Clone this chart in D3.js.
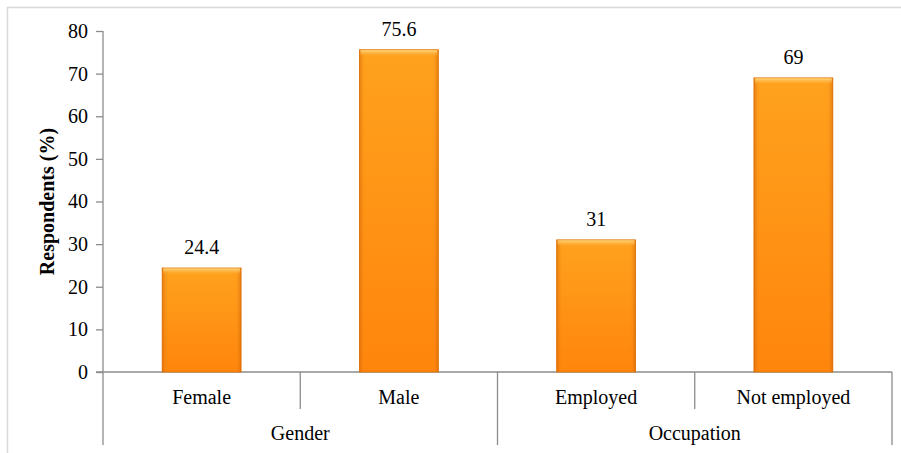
<!DOCTYPE html>
<html>
<head>
<meta charset="utf-8">
<script src="https://cdn.jsdelivr.net/npm/d3@7"></script>
<style>
  body { margin: 0; background: #fff; }
  svg { display: block; }
  svg text { font-family: "Liberation Serif", "Times New Roman", serif !important; fill: #000; }
</style>
</head>
<body>
<div id="chart"></div>
<script>
// chart data
const categories = ["Female", "Male", "Employed", "Not employed"];
const groupOf = ["Gender", "Gender", "Occupation", "Occupation"];
const groupNames = ["Gender", "Occupation"];
const values = [24.4, 75.6, 31, 69];
const valueLabels = ["24.4", "75.6", "31", "69"];
const yTicks = [0, 10, 20, 30, 40, 50, 60, 70, 80];

var width = 901,
    height = 453;

var plotLeft = 103, plotRight = 892, plotTop = 31, plotBottom = 372;

var svg = d3.select("#chart").append("svg")
    .attr("width", width)
    .attr("height", height);

var defs = svg.append("defs");

// vertical body gradient
var gv = defs.append("linearGradient").attr("id", "barV")
    .attr("x1", 0).attr("y1", 0).attr("x2", 0).attr("y2", 1);
gv.append("stop").attr("offset", "0%").attr("stop-color", "#ffa21e");
gv.append("stop").attr("offset", "100%").attr("stop-color", "#ff850c");

// horizontal shading at the sides
var gh = defs.append("linearGradient").attr("id", "barH")
    .attr("x1", 0).attr("y1", 0).attr("x2", 1).attr("y2", 0);
gh.append("stop").attr("offset", "0%").attr("stop-color", "#c85a00").attr("stop-opacity", 0.5);
gh.append("stop").attr("offset", "8%").attr("stop-color", "#ff9a20").attr("stop-opacity", 0);
gh.append("stop").attr("offset", "92%").attr("stop-color", "#ff9a20").attr("stop-opacity", 0);
gh.append("stop").attr("offset", "100%").attr("stop-color", "#c85a00").attr("stop-opacity", 0.5);

// top highlight
var gt = defs.append("linearGradient").attr("id", "barT")
    .attr("x1", 0).attr("y1", 0).attr("x2", 0).attr("y2", 1);
gt.append("stop").attr("offset", "0%").attr("stop-color", "#ffd680");
gt.append("stop").attr("offset", "100%").attr("stop-color", "#ffb03a").attr("stop-opacity", 0);

// outer frame
svg.append("rect")
    .attr("x", 7.5).attr("y", 7.5)
    .attr("width", 900).attr("height", 450)
    .attr("fill", "none")
    .attr("stroke", "#d9d9d9")
    .attr("stroke-width", 1.5);

var x = d3.scaleBand()
    .domain(categories)
    .range([plotLeft, plotRight])
    .padding(0);

var y = d3.scaleLinear()
    .domain([0, 80])
    .range([plotBottom, plotTop]);

var barW = x.bandwidth() * 0.4;

// y axis
var yAxis = svg.append("g")
    .attr("transform", "translate(" + plotLeft + ",0)")
    .call(d3.axisLeft(y).tickValues(yTicks).tickSize(7).tickPadding(8));
yAxis.attr("font-family", null);
yAxis.select(".domain").remove();
yAxis.selectAll(".tick line").attr("stroke", "#8c8c8c").attr("stroke-width", 1.3);
yAxis.selectAll(".tick text")
    .attr("font-size", 20)
    .attr("fill", "#000");

var lineColor = "#8c8c8c";

// y axis line, extends down as the leftmost divider
svg.append("line")
    .attr("x1", plotLeft).attr("x2", plotLeft)
    .attr("y1", y(80)).attr("y2", 445)
    .attr("stroke", lineColor).attr("stroke-width", 1.3);

// x axis line
svg.append("line")
    .attr("x1", plotLeft - 7).attr("x2", plotRight)
    .attr("y1", y(0)).attr("y2", y(0))
    .attr("stroke", lineColor).attr("stroke-width", 1.3);

// dividers between categories: short inside a group, long between groups
categories.forEach(function(c, i) {
  if (i === 0) return;
  var xe = x(c);
  var long = groupOf[i] !== groupOf[i - 1];
  svg.append("line")
      .attr("x1", xe).attr("x2", xe)
      .attr("y1", y(0)).attr("y2", long ? 445 : 409)
      .attr("stroke", lineColor).attr("stroke-width", 1.3);
});
svg.append("line")
    .attr("x1", plotRight).attr("x2", plotRight)
    .attr("y1", y(0)).attr("y2", 445)
    .attr("stroke", lineColor).attr("stroke-width", 1.3);

// bars
var bars = svg.selectAll(".bar")
    .data(values)
    .enter().append("g")
    .attr("class", "bar")
    .attr("transform", function(d, i) {
      return "translate(" + (x(categories[i]) + (x.bandwidth() - barW) / 2) + "," + y(d) + ")";
    });

bars.append("rect")
    .attr("width", barW)
    .attr("height", function(d) { return y(0) - y(d); })
    .attr("fill", "url(#barV)")
    .attr("stroke", "#e27300")
    .attr("stroke-width", 0.8);
bars.append("rect")
    .attr("width", barW)
    .attr("height", function(d) { return y(0) - y(d); })
    .attr("fill", "url(#barH)");
bars.append("rect")
    .attr("x", 1).attr("y", 0.5)
    .attr("width", barW - 2)
    .attr("height", 6)
    .attr("fill", "url(#barT)");

// value labels
svg.selectAll(".val")
    .data(values)
    .enter().append("text")
    .attr("class", "val")
    .attr("x", function(d, i) { return x(categories[i]) + x.bandwidth() / 2; })
    .attr("y", function(d) { return y(d) - 14; })
    .attr("text-anchor", "middle")
    .attr("font-size", 20)
    .text(function(d, i) { return valueLabels[i]; });

// category labels
svg.selectAll(".cat")
    .data(categories)
    .enter().append("text")
    .attr("class", "cat")
    .attr("x", function(d) { return x(d) + x.bandwidth() / 2; })
    .attr("y", 404)
    .attr("text-anchor", "middle")
    .attr("font-size", 20)
    .text(function(d) { return d; });

// group labels
svg.selectAll(".grp")
    .data(groupNames)
    .enter().append("text")
    .attr("class", "grp")
    .attr("x", function(g) {
      var members = categories.filter(function(c, i) { return groupOf[i] === g; });
      var x0 = x(members[0]), x1 = x(members[members.length - 1]) + x.bandwidth();
      return (x0 + x1) / 2;
    })
    .attr("y", 440)
    .attr("text-anchor", "middle")
    .attr("font-size", 20)
    .text(function(g) { return g; });

// y title
svg.append("text")
    .attr("transform", "translate(54," + ((plotTop + plotBottom) / 2) + ") rotate(-90)")
    .attr("text-anchor", "middle")
    .attr("font-size", 20)
    .attr("font-weight", "bold")
    .text("Respondents (%)");
</script>
</body>
</html>
